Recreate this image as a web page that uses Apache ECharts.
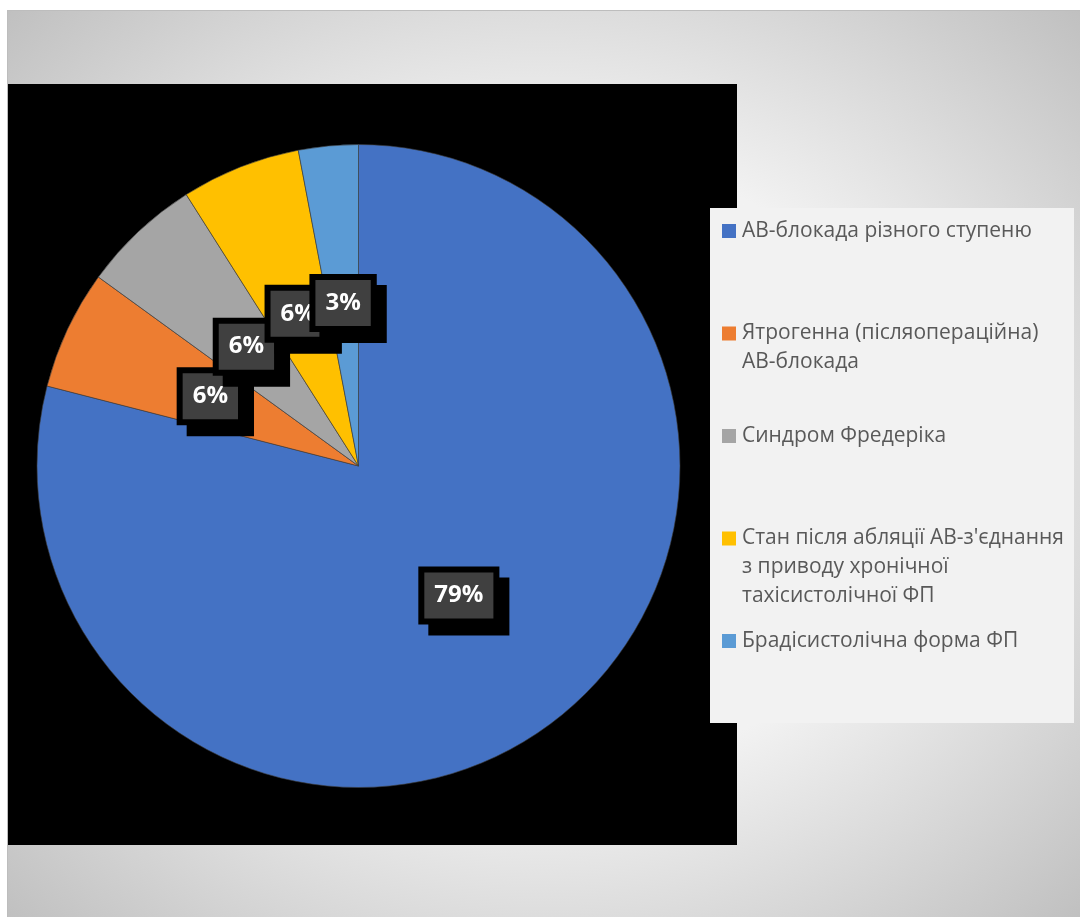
<!DOCTYPE html>
<html>
<head>
<meta charset="utf-8">
<script src="https://cdn.jsdelivr.net/npm/echarts@6/dist/echarts.min.js"></script>
<style>
  html, body { margin: 0; padding: 0; background: #ffffff; }
  #wrap { position: relative; width: 1080px; height: 917px; overflow: hidden; }
  /* chart plate with soft radial shading */
  #plate {
    position: absolute; left: 7px; top: 10px; width: 1073px; height: 907px;
    box-sizing: border-box;
    border-left: 1px solid #bdbdbd; border-top: 1px solid #bdbdbd;
    background: radial-gradient(759px 641px at 50% 50%, #f5f5f5 0%, #f2f2f2 49%, #c0c0c0 100%);
  }
  #chart { position: absolute; left: 0; top: 0; width: 1080px; height: 917px; }
</style>
</head>
<body>
<div id="wrap">
  <div id="plate"></div>
  <div id="chart"></div>
</div>
<script>
// Categories and their shares (%)
const categories = [
  'АВ-блокада різного ступеню',
  'Ятрогенна (післяопераційна) АВ-блокада',
  'Синдром Фредеріка',
  "Стан після абляції АВ-з'єднання з приводу хронічної тахісистолічної ФП",
  'Брадісистолічна форма ФП'
];
const shares = [79, 6, 6, 6, 3];

// Legend text split into lines
const legendLines = [
  ['АВ-блокада різного ступеню'],
  ['Ятрогенна (післяопераційна)', 'АВ-блокада'],
  ['Синдром Фредеріка'],
  ["Стан після абляції АВ-з'єднання", 'з приводу хронічної', 'тахісистолічної ФП'],
  ['Брадісистолічна форма ФП']
];

const colors = ['#4472C4', '#ED7D31', '#A5A5A5', '#FFC000', '#5B9BD5'];

const LINE_H = 29;
const LINES_PER_ITEM = 3;

// rich styles: coloured square marker per category, spacer and indent
const rich = {
  gap: { width: 6, lineHeight: LINE_H },
  ind: { width: 20, lineHeight: LINE_H }
};
colors.forEach((c, i) => {
  rich['sq' + i] = { width: 14, height: 14, lineHeight: LINE_H, backgroundColor: c };
});

function legendText(name) {
  const i = categories.indexOf(name);
  const lines = legendLines[i];
  const out = ['{sq' + i + '|}{gap|}' + lines[0]];
  for (let k = 1; k < lines.length; k++) out.push('{ind|}' + lines[k]);
  while (out.length < LINES_PER_ITEM) out.push('{ind|}');
  return out.join('\n');
}

const chart = echarts.init(document.getElementById('chart'), null, { renderer: 'canvas' });

chart.setOption({
  animation: false,
  backgroundColor: 'transparent',
  color: colors,
  graphic: [
    { type: 'rect', silent: true, z: 0, shape: { x: 8, y: 84, width: 729, height: 761 }, style: { fill: '#000000' } },
    { type: 'rect', silent: true, z: 1, shape: { x: 710, y: 208, width: 364, height: 515 }, style: { fill: '#f2f2f2' } }
  ],
  legend: {
    orient: 'vertical',
    left: 717,
    top: 216.5,
    padding: 0,
    itemGap: 102.5 - LINE_H * LINES_PER_ITEM,
    itemWidth: 0,
    itemHeight: 0,
    icon: 'none',
    selectedMode: false,
    data: categories,
    formatter: legendText,
    textStyle: {
      fontFamily: 'Open Sans',
      fontSize: 21,
      color: '#595959',
      lineHeight: LINE_H,
      rich: rich
    }
  },
  series: [{
    type: 'pie',
    center: [358.5, 466],
    radius: 321.5,
    startAngle: 90,
    clockwise: true,
    data: categories.map((n, i) => ({ name: n, value: shares[i] })),
    itemStyle: { borderColor: 'rgba(60,60,60,0.6)', borderWidth: 1 },
    label: {
      show: true,
      position: 'inside',
      formatter: '{d}%',
      color: '#ffffff',
      fontFamily: 'Open Sans',
      fontWeight: 'bold',
      fontSize: 24,
      lineHeight: 26,
      backgroundColor: '#404040',
      borderColor: '#000000',
      borderWidth: 6,
      padding: [10, 10],
      shadowColor: '#000000',
      shadowBlur: 0,
      shadowOffsetX: 10,
      shadowOffsetY: 11
    },
    labelLayout: { hideOverlap: false },
    labelLine: { show: false },
    emphasis: { disabled: true }
  }]
});
</script>
</body>
</html>
